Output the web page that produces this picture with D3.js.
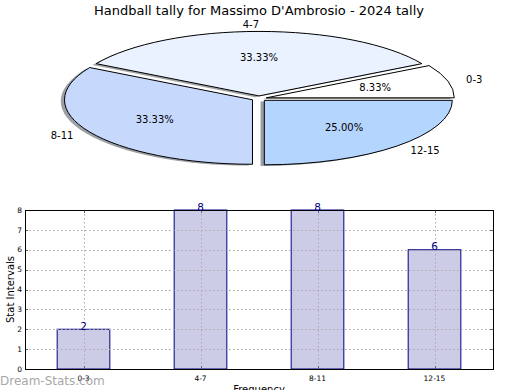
<!DOCTYPE html>
<html>
<head>
<meta charset="utf-8">
<script src="https://cdn.jsdelivr.net/npm/d3@7"></script>
<style>
  body { margin: 0; background: #fff; }
  text { font-family: "DejaVu Sans", sans-serif; }
</style>
</head>
<body>
<div id="chart"></div>
<script>
// data
const categories = ["0-3", "4-7", "8-11", "12-15"];
const counts = [2, 8, 8, 6];
const pieColors = ["#ffffff", "#ebf2ff", "#c6d9fd", "#b4d5fe"];
const yTicks = [0, 1, 2, 3, 4, 5, 6, 7, 8];
const title = "Handball tally for Massimo D'Ambrosio - 2024 tally";

const W = 520, H = 390;
const svg = d3.select("#chart").append("svg")
  .attr("width", W).attr("height", H);

svg.append("text")
  .attr("x", 259).attr("y", 15)
  .attr("text-anchor", "middle")
  .attr("font-size", 13)
  .text(title);

// ---- pie (squashed ellipse, exploded, with shadow)
const cx = 259, cy = 98.5, rx = 188, ry = 64.5;
const explode = 0.04;
const total = d3.sum(counts);

const pie = d3.pie().sort(null)
  .startAngle(Math.PI / 2)
  .endAngle(Math.PI / 2 - 2 * Math.PI);
const arcs = pie(counts);
const arcGen = d3.arc().innerRadius(0).outerRadius(1);

const pieG = svg.append("g");
const pieData = arcs.map((a, i) => {
  const mid = (a.startAngle + a.endAngle) / 2;
  const ux = Math.sin(mid), uy = -Math.cos(mid);
  return {a, i, ux, uy, x: cx + ux * explode * rx, y: cy + uy * explode * ry};
});

// shadows first
pieG.selectAll(".shadow").data(pieData).enter().append("path")
  .attr("class", "shadow")
  .attr("transform", d => `translate(${d.x - 0.02 * rx},${d.y + 0.02 * ry}) scale(${rx},${ry})`)
  .attr("d", d => arcGen(d.a))
  .attr("fill", d => {
    const c = d3.rgb(pieColors[d.i]);
    return d3.rgb(c.r * 0.3, c.g * 0.3, c.b * 0.3);
  })
  .attr("opacity", 0.5);

pieG.selectAll(".wedge").data(pieData).enter().append("path")
  .attr("class", "wedge")
  .attr("transform", d => `translate(${d.x},${d.y}) scale(${rx},${ry})`)
  .attr("d", d => arcGen(d.a))
  .attr("fill", d => pieColors[d.i])
  .attr("stroke", "#000")
  .attr("stroke-width", 1)
  .attr("vector-effect", "non-scaling-stroke");

pieG.selectAll(".plabel").data(pieData).enter().append("text")
  .attr("x", d => d.x + 1.1 * d.ux * rx)
  .attr("y", d => d.y + 1.1 * d.uy * ry)
  .attr("dy", "0.35em")
  .attr("text-anchor", d => d.ux > 1e-9 ? "start" : "end")
  .attr("font-size", 10)
  .text(d => categories[d.i]);

pieG.selectAll(".pct").data(pieData).enter().append("text")
  .attr("x", d => d.x + 0.6 * d.ux * rx)
  .attr("y", d => d.y + 0.6 * d.uy * ry)
  .attr("dy", "0.35em")
  .attr("text-anchor", "middle")
  .attr("font-size", 10)
  .text(d => (counts[d.i] / total * 100).toFixed(2) + "%");

// ---- bar chart
const plot = {left: 25, right: 493, top: 210, bottom: 369};
const x = d3.scaleLinear().domain([-0.5, categories.length - 0.5]).range([plot.left, plot.right]);
const y = d3.scaleLinear().domain([0, 8]).range([plot.bottom, plot.top]);
const barW = 0.45;

const barG = svg.append("g");
barG.selectAll(".bar").data(counts).enter().append("rect")
  .attr("x", (d, i) => x(i - barW / 2))
  .attr("width", x(barW) - x(0))
  .attr("y", d => y(d))
  .attr("height", d => y(0) - y(d))
  .attr("fill", "#cccce6")
  .attr("stroke", "#000080")
  .attr("stroke-width", 1);

// grid on top of bars
const grid = svg.append("g")
  .attr("stroke", "#a8a8a8")
  .attr("stroke-width", 1)
  .attr("stroke-dasharray", "1.5,2.5");
grid.selectAll(".hg").data(yTicks.slice(1, -1)).enter().append("line")
  .attr("x1", plot.left).attr("x2", plot.right)
  .attr("y1", d => Math.round(y(d)) + 0.5).attr("y2", d => Math.round(y(d)) + 0.5);
grid.selectAll(".vg").data(categories).enter().append("line")
  .attr("x1", (d, i) => Math.round(x(i)) + 0.5).attr("x2", (d, i) => Math.round(x(i)) + 0.5)
  .attr("y1", plot.top).attr("y2", plot.bottom);

// ticks (inside)
const ticks = svg.append("g").attr("stroke", "#666").attr("stroke-width", 1);
yTicks.forEach(t => {
  const yy = Math.round(y(t)) + 0.5;
  ticks.append("line").attr("x1", plot.left).attr("x2", plot.left + 3).attr("y1", yy).attr("y2", yy);
  ticks.append("line").attr("x1", plot.right - 3).attr("x2", plot.right).attr("y1", yy).attr("y2", yy);
});
categories.forEach((c, i) => {
  const xx = Math.round(x(i)) + 0.5;
  ticks.append("line").attr("x1", xx).attr("x2", xx).attr("y1", plot.bottom).attr("y2", plot.bottom - 3);
  ticks.append("line").attr("x1", xx).attr("x2", xx).attr("y1", plot.top).attr("y2", plot.top + 3);
});

// frame
svg.append("rect")
  .attr("x", plot.left + 0.5).attr("y", plot.top + 0.5)
  .attr("width", plot.right - plot.left).attr("height", plot.bottom - plot.top)
  .attr("fill", "none").attr("stroke", "#000").attr("stroke-width", 1);

// tick labels
svg.selectAll(".ytl").data(yTicks).enter().append("text")
  .attr("x", plot.left - 3).attr("y", d => y(d))
  .attr("dy", "0.35em").attr("text-anchor", "end")
  .attr("font-size", 7.5)
  .text(d => d);
svg.selectAll(".xtl").data(categories).enter().append("text")
  .attr("x", (d, i) => x(i)).attr("y", plot.bottom + 12)
  .attr("text-anchor", "middle")
  .attr("font-size", 7.5)
  .text(d => d);

// value labels
svg.selectAll(".val").data(counts).enter().append("text")
  .attr("x", (d, i) => x(i)).attr("y", d => y(d) + 0.5)
  .attr("text-anchor", "middle")
  .attr("font-size", 10.5)
  .attr("fill", "#000080")
  .text(d => d);

// axis titles
svg.append("text")
  .attr("transform", `translate(13.5,${(plot.top + plot.bottom) / 2}) rotate(-90)`)
  .attr("text-anchor", "middle")
  .attr("font-size", 10)
  .text("Stat Intervals");
svg.append("text")
  .attr("x", 259).attr("y", 393)
  .attr("text-anchor", "middle")
  .attr("font-size", 10)
  .text("Frequency");

// watermark
svg.append("text")
  .attr("x", 0).attr("y", 385)
  .attr("font-size", 12)
  .attr("fill", "#999")
  .attr("opacity", 0.85)
  .text("Dream-Stats.com");
</script>
</body>
</html>
